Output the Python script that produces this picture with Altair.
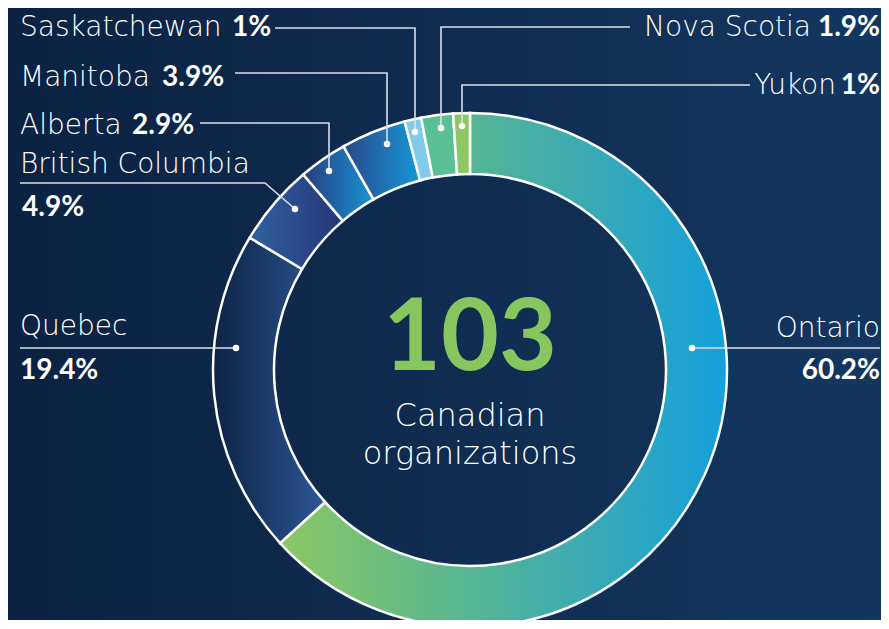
import altair as alt
import pandas as pd

# ---------------- data ----------------
provinces = ["Ontario", "Quebec", "British Columbia", "Alberta", "Manitoba",
             "Saskatchewan", "Nova Scotia", "Yukon"]
shares = [60.2, 19.4, 4.9, 2.9, 3.9, 1.0, 1.9, 1.0]
total_orgs = 103
center_lines = ["Canadian", "organizations"]

# ---------------- layout / style ----------------
W, H = 873, 612
OFF = 8                      # page margin; reference px -> chart px
CX, CY = 470 - OFF, 370 - OFF
R_OUT, R_IN = 257, 196

fills = {
    "Ontario": [(0, "#8cc864"), (0.42, "#56b592"), (0.71, "#38a9b8"), (1, "#14a0da")],
    "Quebec": [(0, "#0c2344"), (1, "#2d5796")],
    "British Columbia": [(0, "#3061a0"), (1, "#243679")],
    "Alberta": [(0, "#283d7e"), (1, "#1893d4")],
    "Manitoba": [(0, "#2a4788"), (1, "#1598d8")],
    "Saskatchewan": "#80cbea",
    "Nova Scotia": "#5bbf95",
    "Yukon": "#8cc863",
}

# label anchors (reference px): name x, name baseline, name align, pct x, pct baseline, pct align
label_layout = {
    "Saskatchewan":     (20, 36, "left", 232, 36, "left"),
    "Manitoba":         (20, 86, "left", 162, 86, "left"),
    "Alberta":          (20, 134, "left", 132, 134, "left"),
    "British Columbia": (20, 173, "left", 22, 216, "left"),
    "Quebec":           (20, 335, "left", 20, 379, "left"),
    "Ontario":          (880, 337, "right", 880, 379, "right"),
    "Nova Scotia":      (811, 36, "right", 880, 36, "right"),
    "Yukon":            (836, 94, "right", 880, 94, "right"),
}
leader_paths = {
    "Saskatchewan":     [(275, 28), (415, 28), (415, 132)],
    "Manitoba":         [(235, 73), (387, 73), (387, 144)],
    "Alberta":          [(200, 123), (329, 123), (329, 171)],
    "British Columbia": [(20, 183), (265, 183), (295, 209)],
    "Quebec":           [(20, 348), (236, 348)],
    "Ontario":          [(880, 348), (692, 348)],
    "Nova Scotia":      [(630, 27), (441, 27), (441, 128)],
    "Yukon":            [(750, 85), (462, 85), (462, 126)],
}

def grad(stops):
    return {"gradient": "linear", "x1": 0, "y1": 0, "x2": 1, "y2": 0,
            "stops": [{"offset": o, "color": c} for o, c in stops]}

# ---------------- tables ----------------
slices = pd.DataFrame({"province": provinces, "share": shares, "rank": list(range(len(provinces)))})

labels = pd.DataFrame([
    {"province": p, "nx": v[0] - OFF, "ny": v[1] - OFF, "nalign": v[2],
     "px": v[3] - OFF, "py": v[4] - OFF, "palign": v[5], "share": s}
    for p, s in zip(provinces, shares) for v in [label_layout[p]]
])

seg_rows = []
dot_rows = []
for p in provinces:
    pts = leader_paths[p]
    for i, (x, y) in enumerate(pts):
        seg_rows.append({"province": p, "step": i, "x": x - OFF, "y": y - OFF})
    dot_rows.append({"province": p, "x": pts[-1][0] - OFF, "y": pts[-1][1] - OFF})
segs = pd.DataFrame(seg_rows)
dots = pd.DataFrame(dot_rows)

center = pd.DataFrame({"txt": [str(total_orgs)] + center_lines,
                       "kind": ["num", "sub", "sub"],
                       "y": [370 - OFF, 426 - OFF, 464 - OFF]})

# ---------------- layers ----------------
bg = alt.Chart(pd.DataFrame({"a": [0]})).mark_rect().encode(
    x=alt.value(0), x2=alt.value(W), y=alt.value(0), y2=alt.value(H),
    fill=alt.value(grad([(0, "#0b2242"), (1, "#13365f")])),
)

conds = []
for p in provinces:
    f = fills[p]
    conds.append({"test": f"datum.province === '{p}'",
                  "value": grad(f) if isinstance(f, list) else f})

arcs = alt.Chart(slices).mark_arc(
    stroke="white", strokeWidth=2.5, radius=R_OUT, radius2=R_IN
).encode(
    theta=alt.Theta("share:Q", stack=True),
    order=alt.Order("rank:Q", sort="ascending"),
    fill=alt.FillValue(value="#ffffff", condition=conds),
    x=alt.value(CX), y=alt.value(CY),
)

lines = alt.Chart(segs).mark_line(color="#dcdfe4", strokeWidth=1.6).encode(
    x=alt.X("x:Q", scale=None), y=alt.Y("y:Q", scale=None),
    detail="province:N", order="step:Q",
)

dot_layer = alt.Chart(dots).mark_circle(color="white", opacity=1, size=42).encode(
    x=alt.X("x:Q", scale=None), y=alt.Y("y:Q", scale=None),
)

def name_layer(align):
    return alt.Chart(labels).transform_filter(f"datum.nalign === '{align}'").mark_text(
        align=align, baseline="alphabetic", font="DejaVu Sans", fontSize=28,
        fontWeight=300, color="white"
    ).encode(x=alt.X("nx:Q", scale=None), y=alt.Y("ny:Q", scale=None), text="province:N")

def pct_layer(align):
    return alt.Chart(labels).transform_filter(f"datum.palign === '{align}'").transform_calculate(
        lbl="format(datum.share, '.1~f') + '%'"
    ).mark_text(
        align=align, baseline="alphabetic", font="Lato", fontSize=28,
        fontWeight="bold", color="white"
    ).encode(x=alt.X("px:Q", scale=None), y=alt.Y("py:Q", scale=None), text="lbl:N")

num = alt.Chart(center).transform_filter("datum.kind === 'num'").mark_text(
    align="center", baseline="alphabetic", font="Lato", fontSize=100,
    fontWeight="bold", color="#86c65f"
).encode(x=alt.value(CX), y=alt.Y("y:Q", scale=None), text="txt:N")

sub = alt.Chart(center).transform_filter("datum.kind === 'sub'").mark_text(
    align="center", baseline="alphabetic", font="DejaVu Sans", fontSize=32,
    fontWeight=300, color="white"
).encode(x=alt.value(CX), y=alt.Y("y:Q", scale=None), text="txt:N")

chart = alt.layer(
    bg, arcs, lines, dot_layer,
    name_layer("left"), name_layer("right"), pct_layer("left"), pct_layer("right"),
    num, sub,
).properties(
    width=W, height=H, autosize="none", padding=0, background="#0b2242"
).configure_view(strokeWidth=0)

chart.save("out.html", embed_options={"renderer": "svg", "actions": False})
